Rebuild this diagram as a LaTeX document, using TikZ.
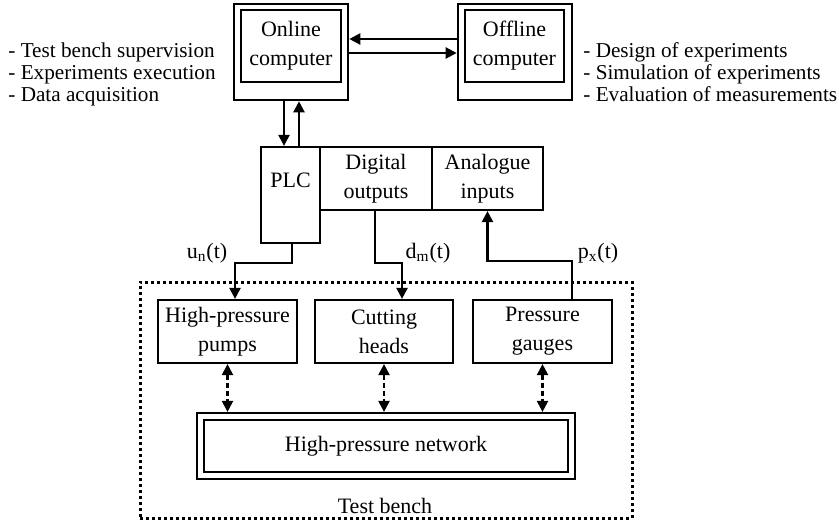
\documentclass[tikz,border=0pt]{standalone}
\usepackage{fontspec}
\setmainfont{Liberation Serif}
\usetikzlibrary{arrows.meta}

\begin{document}
\begin{tikzpicture}[x=0.5pt,y=-0.5pt,
  box/.style={draw,line width=1.1pt,rectangle,inner sep=0pt,align=center,
    font=\fontsize{11}{14.5}\selectfont},
  lbl/.style={inner sep=0pt,font=\fontsize{11}{13}\selectfont},
  side/.style={inner sep=0pt,align=left,anchor=west,font=\fontsize{10.6}{11}\selectfont},
  arr/.style={line width=1.1pt,-{Triangle[length=5.5pt,width=5.5pt]}},
  darr/.style={line width=1.1pt,dash pattern=on 2.5pt off 1.5pt,
    {Triangle[length=5.5pt,width=5.5pt]}-{Triangle[length=5.5pt,width=5.5pt]}},
  frame/.style={draw,line width=1.5pt,dash pattern=on 1.5pt off 1.5pt,rectangle,inner sep=0pt}]
\useasboundingbox (0,0) rectangle (839,529);

% computers
\node[box,line width=1.3pt,minimum width=57pt,minimum height=48pt] (onl) at (291,52) {};
\node[box,minimum width=50pt,minimum height=36pt] (onlin) at (291,46) {Online\\computer};
\node[box,line width=1.3pt,minimum width=57pt,minimum height=48pt] (off) at (515,52) {};
\node[box,minimum width=49.5pt,minimum height=36pt] (offin) at (514.5,46) {Offline\\computer};

% task lists
\node[side] (tasksl) at (8,74) {- Test bench supervision\\- Experiments execution\\- Data acquisition};
\node[side] (tasksr) at (583,72) {- Design of experiments\\- Simulation of experiments\\- Evaluation of measurements};

% PLC and its I/O modules
\node[box,minimum width=29.5pt,minimum height=48pt] (plc) at (290.5,195) {};
\node[lbl] (plct) at (290.5,180) {PLC};
\node[box,minimum width=56pt,minimum height=31.5pt] (dig) at (376,178.5) {Digital\\outputs};
\node[box,minimum width=55.5pt,minimum height=31.5pt] (ana) at (487.5,178.5) {Analogue\\inputs};

% test bench
\node[frame,minimum width=246pt,minimum height=118pt] (bench) at (386,400) {};
\node[lbl] (benchl) at (385,506) {Test bench};
\node[box,minimum width=69.5pt,minimum height=31.5pt] (pumps) at (227.5,331.5) {High-pressure\\pumps};
\node[box,minimum width=69pt,minimum height=31.5pt] (cut) at (384,331.5) {Cutting\\heads};
\node[box,minimum width=69.5pt,minimum height=31.5pt] (gauges) at (542.5,331.5) {Pressure\\gauges};
\node[box,minimum width=189pt,minimum height=33pt] (netout) at (386,446) {};
\node[box,minimum width=182pt,minimum height=26pt] (netin) at (386,446) {High-pressure network};

% computer links
\draw[arr] ([yshift=6.5pt]off.west) -- ([yshift=6.5pt]onl.east);
\draw[arr] ([yshift=-0.5pt]onl.east) -- ([yshift=-0.5pt]off.west);
\draw[arr] ([xshift=-3.5pt]onl.south) -- ([xshift=-3.5pt]onl.south |- plc.north);
\draw[arr] ([xshift=4pt]onl.south |- plc.north) -- ([xshift=4pt]onl.south);

% signals
\draw[arr] ([xshift=0.75pt]plc.south) -- ++(0,19) -| ([xshift=3.75pt]pumps.north);
\node[lbl] (un) at (207,253) {u\textsubscript{n}(t)};
\draw[arr] ([xshift=-0.5pt]dig.south) -- ++(0,52) -| ([xshift=9pt]cut.north);
\node[lbl] (dm) at (428,253) {d\textsubscript{m}(t)};
\draw[arr] ([xshift=14.75pt]gauges.north) -- ++(0,-38) -| (ana.south);
\node[lbl] (px) at (598,253) {p\textsubscript{x}(t)};

% hydraulic connections
\draw[darr] (pumps.south) -- (pumps.south |- netout.north);
\draw[darr] (cut.south) -- (cut.south |- netout.north);
\draw[darr] (gauges.south) -- (gauges.south |- netout.north);
\end{tikzpicture}
\end{document}
